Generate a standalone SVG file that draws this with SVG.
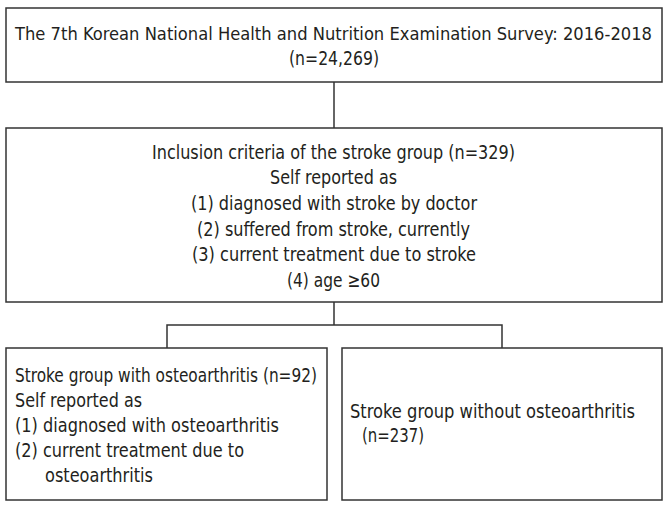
<svg xmlns="http://www.w3.org/2000/svg" width="671" height="507" viewBox="0 0 671 507">
<style>
.box{fill:#fff;stroke:#333;stroke-width:1.5}
.t{font-family:"DejaVu Sans Condensed","Liberation Sans",sans-serif;font-size:20px;fill:#231f20}
.c{text-anchor:middle}
.ln{fill:none;stroke:#333;stroke-width:1.5}
</style>
<rect width="671" height="507" fill="#fff"/>
<g id="connectors">
<path class="ln" d="M334 82V128"/>
<path class="ln" d="M334 302V325M167 348V325H502V348"/>
</g>
<g id="survey">
<rect class="box" x="6" y="8" width="656" height="74"/>
<text class="t c" x="333.5" y="40" style="font-size:18.5px" textLength="637" lengthAdjust="spacingAndGlyphs">The 7th Korean National Health and Nutrition Examination Survey: 2016-2018</text>
<text class="t c" x="334" y="65" textLength="90" lengthAdjust="spacingAndGlyphs">(n=24,269)</text>
</g>
<g id="inclusion">
<rect class="box" x="6" y="128" width="656" height="174"/>
<text class="t c" x="333.5" y="159" textLength="363" lengthAdjust="spacingAndGlyphs">Inclusion criteria of the stroke group (n=329)</text>
<text class="t c" x="333.5" y="184" textLength="127" lengthAdjust="spacingAndGlyphs">Self reported as</text>
<text class="t c" x="334" y="210" textLength="286" lengthAdjust="spacingAndGlyphs">(1) diagnosed with stroke by doctor</text>
<text class="t c" x="333.5" y="236" textLength="273" lengthAdjust="spacingAndGlyphs">(2) suffered from stroke, currently</text>
<text class="t c" x="334" y="261" textLength="284" lengthAdjust="spacingAndGlyphs">(3) current treatment due to stroke</text>
<text class="t c" x="333.5" y="287" textLength="93" lengthAdjust="spacingAndGlyphs">(4) age ≥60</text>
</g>
<g id="with-oa">
<rect class="box" x="6" y="348" width="321" height="152"/>
<text class="t" x="15" y="382" textLength="302" lengthAdjust="spacingAndGlyphs">Stroke group with osteoarthritis (n=92)</text>
<text class="t" x="15" y="407" textLength="127" lengthAdjust="spacingAndGlyphs">Self reported as</text>
<text class="t" x="15" y="432" textLength="264" lengthAdjust="spacingAndGlyphs">(1) diagnosed with osteoarthritis</text>
<text class="t" x="15" y="457" textLength="229" lengthAdjust="spacingAndGlyphs">(2) current treatment due to</text>
<text class="t" x="45" y="482" textLength="108" lengthAdjust="spacingAndGlyphs">osteoarthritis</text>
</g>
<g id="without-oa">
<rect class="box" x="342" y="348" width="320" height="152"/>
<text class="t" x="350" y="418" textLength="285" lengthAdjust="spacingAndGlyphs">Stroke group without osteoarthritis</text>
<text class="t" x="362" y="442" textLength="62" lengthAdjust="spacingAndGlyphs">(n=237)</text>
</g>
</svg>
